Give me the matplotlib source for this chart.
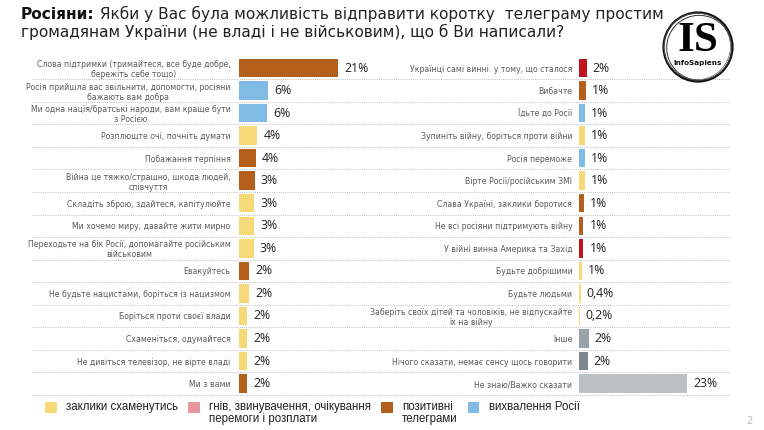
import matplotlib
matplotlib.use('Agg')
import matplotlib.pyplot as plt
from matplotlib import font_manager
from matplotlib.patches import Rectangle, Circle
from matplotlib.lines import Line2D
import matplotlib.transforms as mtransforms

# ---------------- data ----------------
left_labels = [
    "Слова підтримки (тримайтеся, все буде добре,\nбережіть себе тощо)",
    "Росія прийшла вас звільнити, допомогти, росіяни\nбажають вам добра",
    "Ми одна нація/братські народи, вам краще бути\nз Росією",
    "Розплющте очі, почніть думати",
    "Побажання терпіння",
    "Війна це тяжко/страшно, шкода людей,\nспівчуття",
    "Складіть зброю, здайтеся, капітулюйте",
    "Ми хочемо миру, давайте жити мирно",
    "Переходьте на бік Росії, допомагайте російським\nвійськовим",
    "Евакуйтесь",
    "Не будьте нацистами, боріться із нацизмом",
    "Боріться проти своєї влади",
    "Схаменіться, одумайтеся",
    "Не дивіться телевізор, не вірте владі",
    "Ми з вами",
]
left_values = [21, 6.2, 6.0, 3.9, 3.5, 3.3, 3.2, 3.2, 3.1, 2.1, 2.1, 1.8, 1.8, 1.8, 1.8]
left_text = ["21%", "6%", "6%", "4%", "4%", "3%", "3%", "3%", "3%",
             "2%", "2%", "2%", "2%", "2%", "2%"]
left_groups = ["pos", "praise", "praise", "call", "pos", "pos", "call", "call", "call",
               "pos", "call", "call", "call", "call", "pos"]

right_labels = [
    "Українці самі винні  у тому, що сталося",
    "Вибачте",
    "Їдьте до Росії",
    "Зупиніть війну, боріться проти війни",
    "Росія переможе",
    "Вірте Росії/російським ЗМІ",
    "Слава Україні, заклики боротися",
    "Не всі росіяни підтримують війну",
    "У війні винна Америка та Захід",
    "Будьте добрішими",
    "Будьте людьми",
    "Заберіть своїх дітей та чоловіків, не відпускайте\nїх на війну",
    "Інше",
    "Нічого сказати, немає сенсу щось говорити",
    "Не знаю/Важко сказати",
]
right_values = [1.7, 1.5, 1.3, 1.3, 1.3, 1.3, 1.1, 1.0, 1.0, 0.7, 0.4, 0.2, 2.1, 1.9, 23]
right_text = ["2%", "1%", "1%", "1%", "1%", "1%", "1%", "1%", "1%", "1%",
              "0,4%", "0,2%", "2%", "2%", "23%"]
right_groups = ["anger", "pos", "praise", "call", "praise", "call", "pos", "pos", "anger",
                "call", "call", "call", "other", "nothing", "dk"]

legend_keys = ["call", "anger_leg", "pos", "praise"]
legend_labels = ["заклики схаменутись", "гнів, звинувачення, очікування\nперемоги і розплати",
                 "позитивні\nтелеграми", "вихвалення Росії"]

title_bold = "Росіяни:"
title_rest = "Якби у Вас була можливість відправити коротку  телеграму простим"
title_line2 = "громадянам України (не владі і не військовим), що б Ви написали?"

# ---------------- styles ----------------
colors = {
    "pos": "#B4601C",
    "praise": "#80BBE6",
    "call": "#F8D978",
    "anger": "#C0161C",
    "anger_leg": "#E8969C",
    "other": "#9AA4A6",
    "nothing": "#7D888B",
    "dk": "#BDC1C4",
}

available = {f.name for f in font_manager.fontManager.ttflist}
def pick(*names):
    for n in names:
        if n in available:
            return n
    return "DejaVu Sans"

VAL_FONT = pick("Liberation Sans Narrow", "Open Sans", "Lato")
VAL_SIZE = 10 if VAL_FONT == "Liberation Sans Narrow" else 8.8
TITLE_FONT = pick("DejaVu Sans")
LEG_FONT = pick("Liberation Sans Narrow", "Liberation Sans")
LEG_SIZE = 9.2 if LEG_FONT == "Liberation Sans Narrow" else 8.3
LOGO_SERIF = pick("Liberation Serif", "DejaVu Serif")

W, H = 764, 430
fig = plt.figure(figsize=(W / 100, H / 100), dpi=100)
fig.patch.set_facecolor("white")

def fx(px):
    return px / W

def fy(py):
    return 1 - py / H

# background pixel-space axes for decorations
bg = fig.add_axes([0, 0, 1, 1])
bg.set_xlim(0, W)
bg.set_ylim(H, 0)
bg.axis("off")

n = len(left_labels)
row0, row_step = 68.0, 22.54
top = row0 - row_step / 2
bottom = row0 + (n - 1) * row_step + row_step / 2
ax_h = (bottom - top) / H
px_per_pct = 4.72

axL = fig.add_axes([fx(239), fy(bottom), fx(380) - fx(239), ax_h])
axR = fig.add_axes([fx(578.7), fy(bottom), fx(740) - fx(578.7), ax_h])
axL.set_xlim(0, (380 - 239) / px_per_pct)
axR.set_xlim(0, (740 - 578.7) / px_per_pct)

for ax, labels, vals, txts, groups, pad in [
    (axL, left_labels, left_values, left_text, left_groups, 6.2),
    (axR, right_labels, right_values, right_text, right_groups, 4.6),
]:
    ypos = list(range(len(labels)))
    ax.barh(ypos, vals, height=0.82, color=[colors[g] for g in groups], zorder=3)
    ax.set_ylim(len(labels) - 0.5, -0.5)
    ax.set_yticks(ypos)
    ax.set_yticklabels(labels, fontsize=5.6, color="#5A5A5A", family="DejaVu Sans")
    for t in ax.get_yticklabels():
        t.set_multialignment("center")
        t.set_linespacing(1.15)
    ax.tick_params(axis="y", length=0, pad=pad)
    ax.set_xticks([])
    for s in ax.spines.values():
        s.set_visible(False)
    ax.patch.set_alpha(0)
    for i, (v, tx) in enumerate(zip(vals, txts)):
        ax.annotate(tx, xy=(v, i), xytext=(4.3, 0), textcoords="offset points",
                    va="center", ha="left", fontsize=VAL_SIZE, family=VAL_FONT,
                    color="#222222", zorder=4)

# dotted separators
trans = mtransforms.blended_transform_factory(fig.transFigure, axL.transData)
for k in range(n):
    fig.add_artist(Line2D([fx(32), fx(730)], [k + 0.5, k + 0.5], transform=trans,
                          color="#BDBDBD", lw=0.7, ls=(0, (1, 1.2)), zorder=0))

# title
fig.canvas.draw()
r = fig.canvas.get_renderer()
base = 12.0
tb = bg.text(21, 19, title_bold, fontsize=base, fontweight="bold", family=TITLE_FONT,
             va="baseline", ha="left", color="#111111")
tr = bg.text(0, 19, " " + title_rest, fontsize=base, family=TITLE_FONT,
             va="baseline", ha="left", color="#222222")
t2 = bg.text(21, 37.5, title_line2, fontsize=base, family=TITLE_FONT,
             va="baseline", ha="left", color="#222222")
wb = tb.get_window_extent(r).width
wr = tr.get_window_extent(r).width
scale = (659 - 21) / (wb + wr)
fs = base * scale
tb.set_fontsize(fs)
tr.set_fontsize(fs)
t2.set_fontsize(fs)
wb = tb.get_window_extent(r).width
tr.set_x(21 + wb)

# legend (manual flow layout)
x = 45
for key, lab in zip(legend_keys, legend_labels):
    bg.add_patch(Rectangle((x, 402), 11.5, 10.5, facecolor=colors[key], edgecolor="none"))
    t = bg.text(x + 21, 401, lab, fontsize=LEG_SIZE, family=LEG_FONT, va="top",
                ha="left", color="#222222", linespacing=1.05)
    w = t.get_window_extent(r).width
    x = x + 21 + w + 10

# page number
bg.text(749, 421, "2", fontsize=7, color="#BBBBBB", ha="center", va="center")

# logo
lg = fig.add_axes([fx(698 - 40), fy(47 + 40), 80 / W, 80 / H])
lg.set_xlim(-40, 40)
lg.set_ylim(-40, 40)
lg.axis("off")
lg.add_patch(Circle((0, 0), 34.5, fill=False, lw=1.6, ec="#111111"))
lg.add_patch(Circle((1.2, -0.8), 32.5, fill=False, lw=0.7, ec="#333333"))
lg.add_patch(Circle((-0.8, 0.6), 33.3, fill=False, lw=0.5, ec="#555555"))
lg.text(0, 6, "IS", fontsize=31, fontweight="bold", family=LOGO_SERIF, ha="center",
        va="center", color="#000000")
lg.text(0, -16, "InfoSapiens", fontsize=5.2, fontweight="bold", family="DejaVu Sans",
        ha="center", va="center", color="#111111")

fig.savefig("out.png", dpi=100, facecolor="white")
